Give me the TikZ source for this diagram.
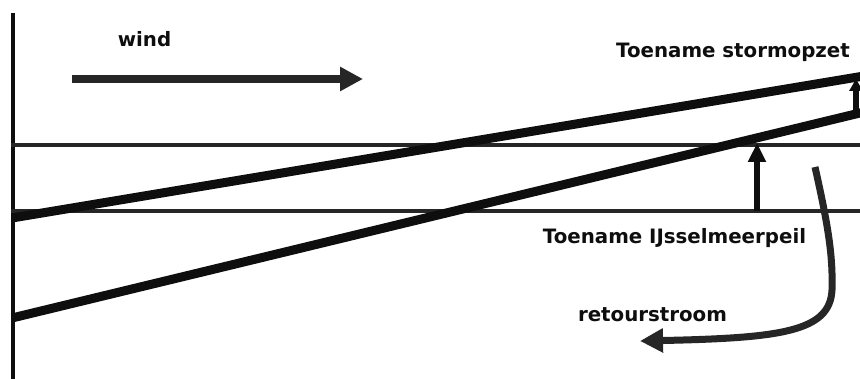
\documentclass[tikz,border=0pt]{standalone}
\usepackage{fontspec}
\setmainfont{DejaVu Sans}
\usepackage{tikz}
\usetikzlibrary{positioning,arrows.meta}
\definecolor{ink1}{HTML}{0E0E0E}
\definecolor{ink2}{HTML}{262626}

\begin{document}
\begin{tikzpicture}[
    x=1pt, y=-1pt,
    >=Triangle,
    label/.style={inner sep=0pt, anchor=base, text=ink1,
                  font=\bfseries\fontsize{19.8}{22}\selectfont},
    level/.style={line width=3.5pt, draw=ink2},
    slope/.style={line width=9pt, draw=ink1},
    flow/.style={line width=8pt, draw=ink2,
                 -{Triangle[length=23pt, width=23pt]}},
    rise/.style={line width=6pt, draw=ink1,
                 -{Triangle[length=19pt, width=17pt]}},
]
\useasboundingbox (0,0) rectangle (860,379);

% coordinates of the water levels
\coordinate (axtop) at (13,13);
\coordinate (axbot) at (13,381);
\coordinate (lvlAw) at (11,145);
\coordinate (lvlAe) at (862,145);
\coordinate (lvlBw) at (11,211);
\coordinate (lvlBe) at (862,211);
\coordinate (upw) at (12,218);
\coordinate (upe) at (864,76);
\coordinate (lowW) at (12,318);
\coordinate (lowE) at (864,112);

% labels
\node[label] (wind) at (144.5,47) {wind};
\node[label] (storm) at (733,58) {Toename stormopzet};
\node[label] (ijssel) at (674.5,244) {Toename IJsselmeerpeil};
\node[label] (retour) at (652.5,322) {retourstroom};

% axis and levels
\draw[line width=4pt, draw=ink1] (axtop) -- (axbot);
\draw[level] (lvlAw) -- (lvlAe);
\draw[level] (lvlBw) -- (lvlBe);
\draw[slope] (upw) -- (upe);
\draw[slope] (lowW) -- (lowE);

% arrows
\coordinate (windS) at (72,79);
\coordinate (windE) at (363,79);
\draw[flow] (windS) -- (windE);

\coordinate (riseS) at (757,211);
\coordinate (riseE) at (757,143);
\draw[rise] (riseS) -- (riseE);

\coordinate (stormS) at (856,112);
\coordinate (stormE) at (856,79);
\draw[line width=6pt, draw=ink1, -{Triangle[length=12pt, width=13pt]}] (stormS) -- (stormE);

\coordinate (retS) at (815,167);
\coordinate (retM) at (832,290);
\coordinate (retE) at (640,341);
\draw[flow, line width=7pt] (retS) .. controls (828,225) and (833,255) .. (retM)
    .. controls (830,332) and (780,338) .. (retE);
\end{tikzpicture}
\end{document}
